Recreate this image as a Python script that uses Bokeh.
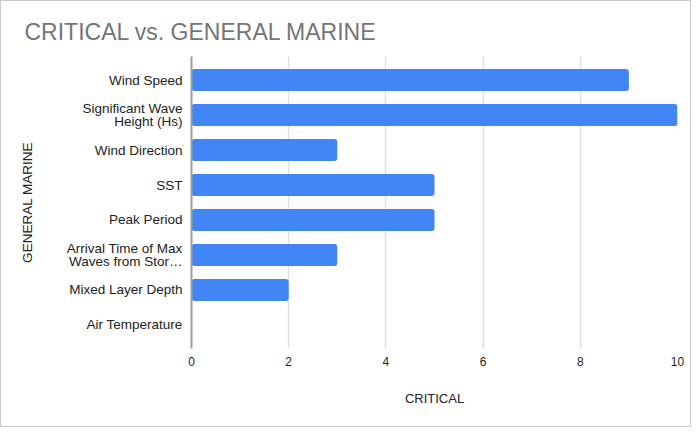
from bokeh.plotting import figure
from bokeh.models import FactorRange, ColumnDataSource, FixedTicker
from bokeh.embed import file_html
from bokeh.resources import INLINE

categories = [
    "Wind Speed",
    "Significant Wave\nHeight (Hs)",
    "Wind Direction",
    "SST",
    "Peak Period",
    "Arrival Time of Max\nWaves from Stor\u2026",
    "Mixed Layer Depth",
    "Air Temperature",
]
critical = [9, 10, 3, 5, 5, 3, 2, 0]
x_ticks = [0, 2, 4, 6, 8, 10]

FONT = "Liberation Sans"

src = ColumnDataSource(dict(cat=categories, val=critical))

p = figure(
    width=691, height=427,
    y_range=FactorRange(factors=list(reversed(categories)), range_padding=0.043),
    x_range=(0, 10),
    output_backend="svg", toolbar_location=None,
    min_border_left=190, min_border_right=15, min_border_top=55, min_border_bottom=80,
    background_fill_color="white", border_fill_color="white",
)
p.styles = {"border": "1px solid #c8c8c8", "box-sizing": "border-box"}

p.hbar(y="cat", right="val", left=0, height=0.63, source=src,
       fill_color="#4285F4", line_color=None, border_radius=3)

p.title.text = "CRITICAL vs. GENERAL MARINE"
p.title.text_font = FONT
p.title.text_font_size = "23px"
p.title.text_font_style = "normal"
p.title.text_color = "#757575"
p.title.align = "left"
p.title.offset = -167
p.title.standoff = 23

p.outline_line_color = None
p.ygrid.grid_line_color = None
p.xgrid.grid_line_color = "#e0e0e0"
p.xgrid.grid_line_width = 1.5
p.xgrid.ticker = FixedTicker(ticks=x_ticks)

p.xaxis.ticker = FixedTicker(ticks=x_ticks)
p.xaxis.axis_line_color = None
p.xaxis.major_tick_line_color = None
p.xaxis.minor_tick_line_color = None
p.xaxis.major_label_text_font = FONT
p.xaxis.major_label_text_font_size = "12px"
p.xaxis.major_label_text_color = "#222222"
p.xaxis.major_label_standoff = 2
p.xaxis.axis_label = "CRITICAL"
p.xaxis.axis_label_text_font = FONT
p.xaxis.axis_label_text_font_size = "13px"
p.xaxis.axis_label_text_font_style = "normal"
p.xaxis.axis_label_text_color = "#222222"
p.xaxis.axis_label_standoff = 22

p.yaxis.axis_line_color = "#9e9e9e"
p.yaxis.axis_line_width = 2
p.yaxis.major_tick_line_color = None
p.yaxis.minor_tick_line_color = None
p.yaxis.major_label_text_font = FONT
p.yaxis.major_label_text_font_size = "13.5px"
p.yaxis.major_label_text_line_height = 0.88
p.yaxis.major_label_text_color = "#222222"
p.yaxis.major_label_standoff = 3
p.yaxis.axis_label = "GENERAL MARINE"
p.yaxis.axis_label_text_font = FONT
p.yaxis.axis_label_text_font_size = "13.5px"
p.yaxis.axis_label_text_font_style = "normal"
p.yaxis.axis_label_text_color = "#222222"
p.yaxis.axis_label_standoff = 29

open("out.html", "w").write(file_html(p, INLINE))
